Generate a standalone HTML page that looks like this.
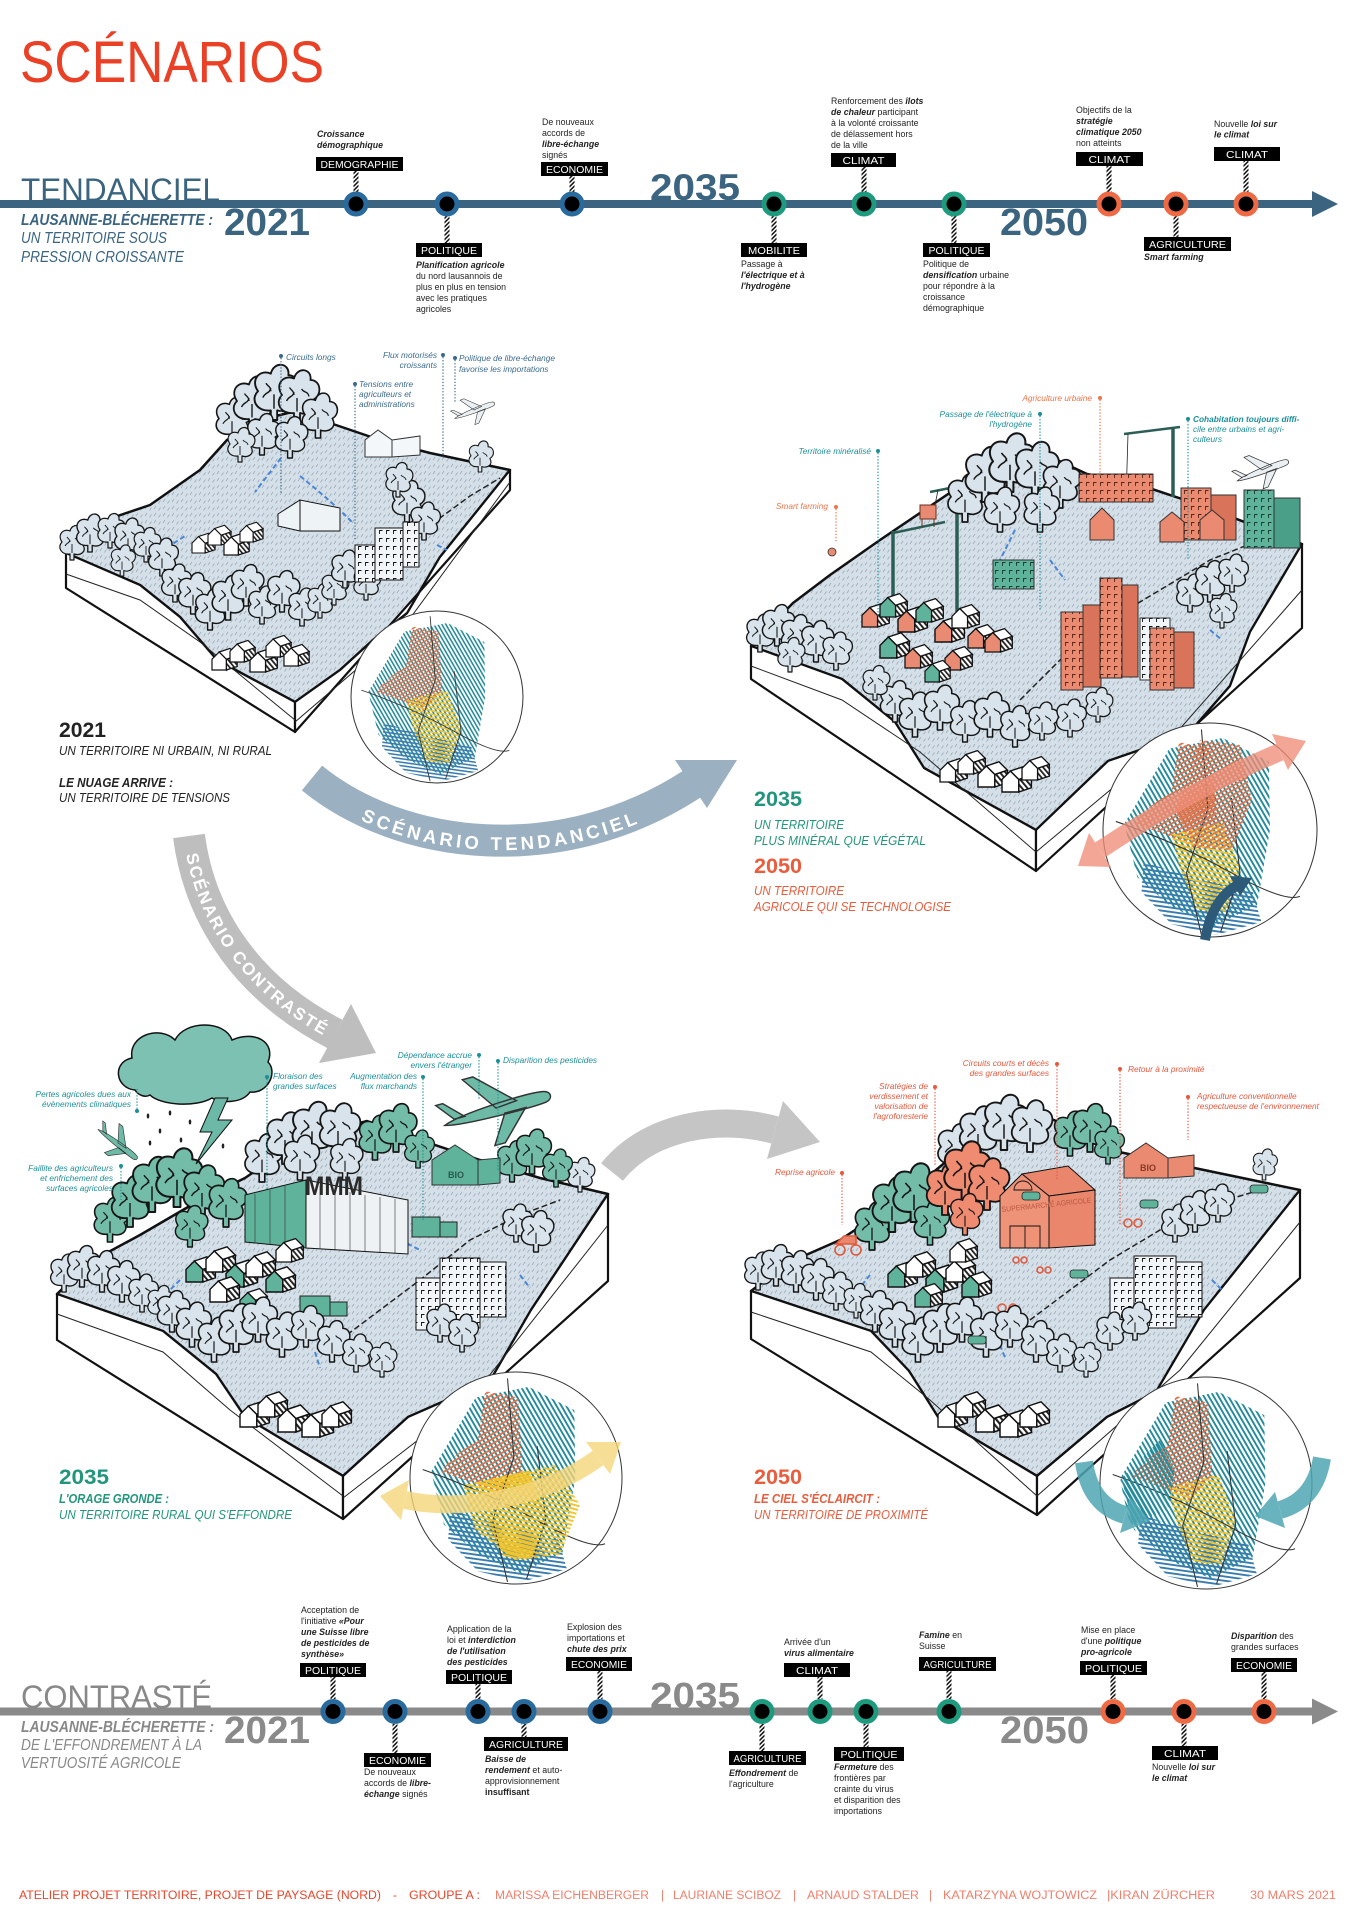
<!DOCTYPE html>
<html><head><meta charset="utf-8"><style>
html,body{margin:0;padding:0;background:#fff;}
svg{display:block;}
text{font-family:"Liberation Sans","DejaVu Sans",sans-serif;}
.d{font-size:8.8px;fill:#222;}
.b{font-weight:bold;font-style:italic;}
.bx{font-size:10.5px;fill:#fff;text-anchor:middle;}
.lb{font-size:8.3px;font-style:italic;}
</style></head><body>
<svg width="1357" height="1920" viewBox="0 0 1357 1920" xmlns="http://www.w3.org/2000/svg" xmlns:xlink="http://www.w3.org/1999/xlink">
<defs>
<pattern id="gr" width="9" height="7" patternUnits="userSpaceOnUse"><rect width="9" height="7" fill="#d4dfe8"/><path d="M1 5l2-3M5.5 6.5l2-3" stroke="#98a9b6" stroke-width=".7"/></pattern>
<pattern id="hz" width="3" height="3" patternUnits="userSpaceOnUse" patternTransform="rotate(45)"><rect width="3" height="3" fill="#fff"/><rect width="1.5" height="3" fill="#111"/></pattern>
<pattern id="hh" width="3" height="3" patternUnits="userSpaceOnUse" patternTransform="rotate(-40)"><rect width="3" height="3" fill="#fff"/><rect width="1.4" height="3" fill="#222"/></pattern>
<pattern id="pT" width="4" height="4" patternUnits="userSpaceOnUse" patternTransform="rotate(60)"><rect width="4" height="1.8" fill="#238a9c"/></pattern>
<pattern id="pO" width="4" height="4" patternUnits="userSpaceOnUse" patternTransform="rotate(-30)"><rect width="4" height="1.8" fill="#e1744c"/></pattern>
<pattern id="pY" width="4" height="4" patternUnits="userSpaceOnUse" patternTransform="rotate(15)"><rect width="4" height="1.9" fill="#f2c42a"/></pattern>
<pattern id="pB" width="4" height="4" patternUnits="userSpaceOnUse" patternTransform="rotate(8)"><rect width="4" height="1.8" fill="#3a7cae"/></pattern>
<pattern id="win" width="7" height="8" patternUnits="userSpaceOnUse"><rect width="7" height="8" fill="#f1f5f7"/><path d="M1.5 6V2.5H4.5" fill="none" stroke="#111" stroke-width=".9"/></pattern>
<pattern id="winO" width="7" height="8" patternUnits="userSpaceOnUse"><rect width="7" height="8" fill="#ea8a70"/><path d="M1.5 6V2.5H4.5" fill="none" stroke="#5a2414" stroke-width=".9"/></pattern>
<pattern id="winG" width="7" height="8" patternUnits="userSpaceOnUse"><rect width="7" height="8" fill="#5fb39b"/><path d="M1.5 6V2.5H4.5" fill="none" stroke="#173d33" stroke-width=".9"/></pattern>
<g id="tree"><path d="M-2,0 L-2,-6 C-11,-5 -15,-13 -10,-18 C-15,-25 -9,-32 -2,-29 C0,-37 10,-36 9,-28 C16,-28 17,-18 11,-15 C15,-8 8,-4 2,-6 L2,0 Z" stroke="#151515" stroke-width="1.2" stroke-linejoin="round"/><path d="M-7,-14 c2,-4 4,-2 5,-6 M3,-22 c2,3 4,1 5,5 M0,-7 v-9 M-5,-23 c1,2 3,2 3,5" fill="none" stroke="#151515" stroke-width=".9"/></g>
<g id="hs"><path d="M0,0 V-9 L6,-15 L12,-9 V0 Z" stroke="#111" stroke-width="1"/><path d="M12,0 V-9 L21,-12 V-3 Z" fill="url(#hh)" stroke="#111" stroke-width="1"/><path d="M6,-15 L15,-18 L21,-12 L12,-9 Z" fill="#fff" stroke="#111" stroke-width="1"/></g>
<path id="pl" d="M-30,2 C-20,-2 20,-4 28,-2 C32,-1 32,3 28,4 C20,5 -20,5 -30,2 Z M0,0 L-14,-20 L-8,-20 L12,-1 Z M4,4 L-6,20 L0,20 L16,4 Z M-24,0 L-32,-10 L-28,-10 L-18,0 Z" stroke="#333" stroke-width=".8"/>
<g id="cm">
<path d="M-80,-6 L-38,-76 L12,-86 L55,-64 L56,0 L44,70 L4,90 L-36,72 L-68,44 Z" fill="url(#pT)"/>
<path d="M-62,30 L-10,46 L40,58 L48,86 L6,98 L-36,88 L-64,58 Z" fill="url(#pB)"/>
<path d="M-29,-82 L2,-76 L6,-6 L-16,16 L-42,4 L-72,-6 L-56,-22 L-36,-36 Z" fill="url(#pO)"/>
<path d="M-36,4 L12,-8 L28,36 L14,78 L-12,74 L-28,36 Z" fill="url(#pY)"/>
<path d="M-88,-8 Q-30,12 20,40 T84,62 M-8,-94 L-2,-20 L-22,40 L-8,98 M20,-30 L28,40 L10,95" fill="none" stroke="#333" stroke-width="1"/>
</g>
</defs>

<!-- TITLE -->
<text x="20" y="82" font-size="58" fill="#ea4126" textLength="304" lengthAdjust="spacingAndGlyphs">SCÉNARIOS</text>

<!-- TENDANCIEL TIMELINE -->
<text x="21" y="201" font-size="32" fill="#3b6480" textLength="199" lengthAdjust="spacingAndGlyphs">TENDANCIEL</text>
<rect x="0" y="200" width="1315" height="8" fill="#3b6480"/>
<polygon points="1312,191 1338,204 1312,217" fill="#3b6480"/>
<text x="224" y="235" font-size="38" font-weight="bold" fill="#3b6480" textLength="86" lengthAdjust="spacingAndGlyphs">2021</text>
<text x="650" y="200" font-size="37" font-weight="bold" fill="#3b6480" textLength="90" lengthAdjust="spacingAndGlyphs">2035</text>
<text x="1000" y="235" font-size="38" font-weight="bold" fill="#3b6480" textLength="88" lengthAdjust="spacingAndGlyphs">2050</text>
<text x="21" y="225" font-size="15.5" font-weight="bold" font-style="italic" fill="#3b6480" textLength="192" lengthAdjust="spacingAndGlyphs">LAUSANNE-BLÉCHERETTE :</text>
<text x="21" y="243" font-size="15.5" font-style="italic" fill="#3b6480" textLength="146" lengthAdjust="spacingAndGlyphs">UN TERRITOIRE SOUS</text>
<text x="21" y="262" font-size="15.5" font-style="italic" fill="#3b6480" textLength="163" lengthAdjust="spacingAndGlyphs">PRESSION CROISSANTE</text>

<g fill="url(#hz)">
<rect x="353.5" y="171" width="5" height="21"/><rect x="444.5" y="216" width="5" height="27"/>
<rect x="569.5" y="176" width="5" height="16"/><rect x="771.5" y="216" width="5" height="27"/>
<rect x="861.5" y="167" width="5" height="25"/><rect x="951.5" y="216" width="5" height="27"/>
<rect x="1106.5" y="166" width="5" height="26"/><rect x="1173.5" y="216" width="5" height="21"/>
<rect x="1243.5" y="161" width="5" height="31"/>
</g>
<g stroke-width="5" fill="#000">
<circle cx="356" cy="204" r="10" stroke="#2a6b9e"/><circle cx="447" cy="204" r="10" stroke="#2a6b9e"/><circle cx="572" cy="204" r="10" stroke="#2a6b9e"/>
<circle cx="774" cy="204" r="10" stroke="#1e9b7e"/><circle cx="864" cy="204" r="10" stroke="#1e9b7e"/><circle cx="954" cy="204" r="10" stroke="#1e9b7e"/>
<circle cx="1109" cy="204" r="10" stroke="#ee6a45"/><circle cx="1176" cy="204" r="10" stroke="#ee6a45"/><circle cx="1246" cy="204" r="10" stroke="#ee6a45"/>
</g>
<g fill="#000">
<rect x="316" y="157" width="87" height="14"/><rect x="416" y="243" width="66" height="14"/><rect x="541" y="162" width="67" height="14"/>
<rect x="741" y="243" width="66" height="14"/><rect x="831" y="153" width="65" height="14"/><rect x="923" y="243" width="67" height="14"/>
<rect x="1076" y="152" width="67" height="14"/><rect x="1144" y="237" width="87" height="14"/><rect x="1214" y="147" width="66" height="14"/>
</g>
<text class="bx" x="359.5" y="167.8" textLength="78" lengthAdjust="spacingAndGlyphs">DEMOGRAPHIE</text>
<text class="bx" x="449" y="253.8" textLength="56" lengthAdjust="spacingAndGlyphs">POLITIQUE</text>
<text class="bx" x="574.5" y="172.8" textLength="57" lengthAdjust="spacingAndGlyphs">ECONOMIE</text>
<text class="bx" x="774" y="253.8" textLength="52" lengthAdjust="spacingAndGlyphs">MOBILITE</text>
<text class="bx" x="863.5" y="163.8" textLength="42" lengthAdjust="spacingAndGlyphs">CLIMAT</text>
<text class="bx" x="956.5" y="253.8" textLength="56" lengthAdjust="spacingAndGlyphs">POLITIQUE</text>
<text class="bx" x="1109.5" y="162.8" textLength="42" lengthAdjust="spacingAndGlyphs">CLIMAT</text>
<text class="bx" x="1187.5" y="247.8" textLength="77" lengthAdjust="spacingAndGlyphs">AGRICULTURE</text>
<text class="bx" x="1247" y="157.8" textLength="42" lengthAdjust="spacingAndGlyphs">CLIMAT</text>

<text class="d" x="317" y="137"><tspan class="b">Croissance</tspan><tspan class="b" x="317" dy="11">démographique</tspan></text>
<text class="d" x="416" y="268"><tspan class="b">Planification agricole</tspan><tspan x="416" dy="11">du nord lausannois de</tspan><tspan x="416" dy="11">plus en plus en tension</tspan><tspan x="416" dy="11">avec les pratiques</tspan><tspan x="416" dy="11">agricoles</tspan></text>
<text class="d" x="542" y="125"><tspan>De nouveaux</tspan><tspan x="542" dy="11">accords de</tspan><tspan class="b" x="542" dy="11">libre-échange</tspan><tspan x="542" dy="11">signés</tspan></text>
<text class="d" x="741" y="267"><tspan>Passage à</tspan><tspan class="b" x="741" dy="11">l'électrique et à</tspan><tspan class="b" x="741" dy="11">l'hydrogène</tspan></text>
<text class="d" x="831" y="104"><tspan>Renforcement des </tspan><tspan class="b">îlots</tspan><tspan class="b" x="831" dy="11">de chaleur</tspan><tspan> participant</tspan><tspan x="831" dy="11">à la volonté croissante</tspan><tspan x="831" dy="11">de délassement hors</tspan><tspan x="831" dy="11">de la ville</tspan></text>
<text class="d" x="923" y="267"><tspan>Politique de</tspan><tspan class="b" x="923" dy="11">densification</tspan><tspan> urbaine</tspan><tspan x="923" dy="11">pour répondre à la</tspan><tspan x="923" dy="11">croissance</tspan><tspan x="923" dy="11">démographique</tspan></text>
<text class="d" x="1076" y="113"><tspan>Objectifs de la</tspan><tspan class="b" x="1076" dy="11">stratégie</tspan><tspan class="b" x="1076" dy="11">climatique 2050</tspan><tspan x="1076" dy="11">non atteints</tspan></text>
<text class="d" x="1144" y="260"><tspan class="b">Smart farming</tspan></text>
<text class="d" x="1214" y="127"><tspan>Nouvelle </tspan><tspan class="b">loi sur</tspan><tspan class="b" x="1214" dy="10.6">le climat</tspan></text>

<!-- SCENARIO ARROWS -->
<path d="M312 778 C400 850 560 870 692 784" fill="none" stroke="#9bb0c1" stroke-width="32"/>
<polygon points="707,808 675,760 737,760" fill="#9bb0c1"/>
<path id="tp1" d="M306 786 C396 860 562 880 698 792" fill="none"/>
<text font-size="18.5" font-weight="bold" fill="#fff" letter-spacing="3.5"><textPath href="#tp1" xlink:href="#tp1" startOffset="50%" text-anchor="middle">SCÉNARIO TENDANCIEL</textPath></text>

<path d="M189 836 C200 920 250 990 335 1034" fill="none" stroke="#bebebe" stroke-width="32"/>
<polygon points="351,1004 319,1063 376,1053" fill="#bebebe"/>
<path id="tp2" d="M183 836 C194 922 245 995 332 1040" fill="none"/>
<text font-size="17" font-weight="bold" fill="#fff" letter-spacing="2"><textPath href="#tp2" xlink:href="#tp2" startOffset="52%" text-anchor="middle">SCÉNARIO CONTRASTÉ</textPath></text>

<path d="M612 1172 C650 1125 720 1115 775 1130" fill="none" stroke="#c5c5c5" stroke-width="28"/>
<polygon points="783,1101 767,1159 820,1142" fill="#c5c5c5"/>

<!-- ============ SCENE 1 (2021) ============ -->
<polygon points="66,553 100,522 150,505 200,470 227,440 260,420 300,410 330,423 380,440 430,453 510,470 440,557 407,613 373,640 340,670 295,702 217,660 180,617 140,585" fill="url(#gr)" stroke="#111" stroke-width="2.5" stroke-linejoin="round"/>
<polygon points="66,553 140,585 180,617 217,660 295,702 295,732 66,588" fill="#fff" stroke="#111" stroke-width="2.2" stroke-linejoin="round"/>
<polygon points="295,702 340,670 373,640 407,613 440,557 510,470 510,490 295,732" fill="#fff" stroke="#111" stroke-width="2.2" stroke-linejoin="round"/>
<path d="M66,574 L140,600 L200,642 L295,720 M295,722 L400,632 L510,482" fill="none" stroke="#222" stroke-width="1"/>
<path d="M330,598 L360,572 L400,545 L440,518 L470,496 L500,478" fill="none" stroke="#222" stroke-width="1.5" stroke-dasharray="6 3"/>
<path d="M281,458 L255,492 M300,476 Q330,500 352,522 M160,552 L185,536 M437,545 L447,550 M220,660 L228,672" fill="none" stroke="#4a86d8" stroke-width="2" stroke-dasharray="5 3"/>
<g fill="#eef3f6" stroke="#111" stroke-width="1"><path d="M278,514 L300,500 L340,508 L340,531 L300,531 L278,526 Z"/><path d="M300,500 V531" /></g>
<path d="M365,457 V440 L378,430 L392,440 V457 Z M392,440 L420,436 V455 L392,457" fill="#f4f7f9" stroke="#333" stroke-width="1"/>
<g fill="#d8e3eb">
<use href="#tree" xlink:href="#tree" transform="translate(72 560) scale(1)"/><use href="#tree" xlink:href="#tree" transform="translate(90 552) scale(1.1)"/>
<use href="#tree" xlink:href="#tree" transform="translate(110 548) scale(1)"/><use href="#tree" xlink:href="#tree" transform="translate(128 556) scale(1.1)"/>
<use href="#tree" xlink:href="#tree" transform="translate(146 562) scale(1)"/><use href="#tree" xlink:href="#tree" transform="translate(162 576) scale(1.1)"/>
<use href="#tree" xlink:href="#tree" transform="translate(122 576) scale(.9)"/>
<use href="#tree" xlink:href="#tree" transform="translate(232 442) scale(1.3)"/><use href="#tree" xlink:href="#tree" transform="translate(252 428) scale(1.5)"/>
<use href="#tree" xlink:href="#tree" transform="translate(274 420) scale(1.6)"/><use href="#tree" xlink:href="#tree" transform="translate(297 422) scale(1.5)"/>
<use href="#tree" xlink:href="#tree" transform="translate(318 438) scale(1.3)"/><use href="#tree" xlink:href="#tree" transform="translate(262 455) scale(1.2)"/>
<use href="#tree" xlink:href="#tree" transform="translate(290 458) scale(1.2)"/><use href="#tree" xlink:href="#tree" transform="translate(240 462) scale(1)"/>
<use href="#tree" xlink:href="#tree" transform="translate(175 602) scale(1.1)"/><use href="#tree" xlink:href="#tree" transform="translate(193 614) scale(1.2)"/>
<use href="#tree" xlink:href="#tree" transform="translate(210 630) scale(1.2)"/><use href="#tree" xlink:href="#tree" transform="translate(228 620) scale(1.3)"/>
<use href="#tree" xlink:href="#tree" transform="translate(246 606) scale(1.2)"/><use href="#tree" xlink:href="#tree" transform="translate(262 624) scale(1.1)"/>
<use href="#tree" xlink:href="#tree" transform="translate(282 612) scale(1.2)"/><use href="#tree" xlink:href="#tree" transform="translate(302 626) scale(1.1)"/>
<use href="#tree" xlink:href="#tree" transform="translate(320 618) scale(1)"/><use href="#tree" xlink:href="#tree" transform="translate(334 605) scale(1)"/>
<use href="#tree" xlink:href="#tree" transform="translate(345 588) scale(1.1)"/><use href="#tree" xlink:href="#tree" transform="translate(366 600) scale(1)"/>
<use href="#tree" xlink:href="#tree" transform="translate(407 522) scale(1.2)"/><use href="#tree" xlink:href="#tree" transform="translate(424 540) scale(1.1)"/>
<use href="#tree" xlink:href="#tree" transform="translate(398 497) scale(1)"/><use href="#tree" xlink:href="#tree" transform="translate(480 472) scale(.9)"/>
</g>
<g fill="#eef3f6" stroke="#111" stroke-width="1">
<rect x="355" y="545" width="20" height="37" fill="url(#win)"/><rect x="375" y="528" width="28" height="52" fill="url(#win)"/><rect x="403" y="522" width="16" height="45" fill="url(#win)"/>
</g>
<g fill="#fff">
<use href="#hs" xlink:href="#hs" transform="translate(192 553) scale(1.1)"/><use href="#hs" xlink:href="#hs" transform="translate(208 545) scale(1.1)"/>
<use href="#hs" xlink:href="#hs" transform="translate(224 555) scale(1.2)"/><use href="#hs" xlink:href="#hs" transform="translate(240 542) scale(1.1)"/>
<use href="#hs" xlink:href="#hs" transform="translate(212 670) scale(1.2)"/><use href="#hs" xlink:href="#hs" transform="translate(230 662) scale(1.2)"/>
<use href="#hs" xlink:href="#hs" transform="translate(250 672) scale(1.3)"/><use href="#hs" xlink:href="#hs" transform="translate(266 657) scale(1.2)"/>
<use href="#hs" xlink:href="#hs" transform="translate(284 666) scale(1.2)"/>
</g>
<use href="#pl" xlink:href="#pl" transform="translate(474 410) rotate(-20) scale(.7)" fill="#e9eff3"/>
<!-- scene1 labels -->
<g fill="#3a6a8c">
<text class="lb" x="286" y="360">Circuits longs</text>
<text class="lb" x="437" y="358" text-anchor="end">Flux motorisés</text><text class="lb" x="437" y="368" text-anchor="end">croissants</text>
<text class="lb" x="459" y="361">Politique de libre-échange</text><text class="lb" x="459" y="372">favorise les importations</text>
<text class="lb" x="359" y="387">Tensions entre</text><text class="lb" x="359" y="397">agriculteurs et</text><text class="lb" x="359" y="407">administrations</text>
<circle cx="281" cy="356" r="2"/><circle cx="443" cy="355" r="2"/><circle cx="455" cy="358" r="2"/><circle cx="355" cy="384" r="2"/>
</g>
<path d="M281,358 V493 M443,357 V458 M455,360 V403 M355,386 V540" stroke="#3a6a8c" stroke-width="1.2" stroke-dasharray="1.3 1.8" fill="none"/>
<!-- circle 1 -->
<circle cx="437" cy="697" r="86" fill="#fff" stroke="#333" stroke-width="1"/>
<use href="#cm" xlink:href="#cm" transform="translate(437 697) scale(.86)"/>
<text x="59" y="737" font-size="21" font-weight="bold" fill="#222" textLength="47" lengthAdjust="spacingAndGlyphs">2021</text>
<text x="59" y="755" font-size="13" font-style="italic" fill="#222" textLength="213" lengthAdjust="spacingAndGlyphs">UN TERRITOIRE NI URBAIN, NI RURAL</text>
<text x="59" y="787" font-size="13" font-style="italic" font-weight="bold" fill="#222" textLength="114" lengthAdjust="spacingAndGlyphs">LE NUAGE ARRIVE :</text>
<text x="59" y="802" font-size="13" font-style="italic" fill="#222" textLength="171" lengthAdjust="spacingAndGlyphs">UN TERRITOIRE DE TENSIONS</text>

<!-- ============ SCENE 2 (tendanciel 2035/2050) ============ -->
<polygon points="751,646 793,603 830,575 880,540 957,488 985,460 1006,445 1040,452 1087,474 1128,481 1200,505 1302,544 1250,632 1230,686 1189,733 1108,761 1036,830 924,768 895,722 842,679" fill="url(#gr)" stroke="#111" stroke-width="2.5" stroke-linejoin="round"/>
<polygon points="751,646 842,679 895,722 924,768 1036,830 1036,871 751,679" fill="#fff" stroke="#111" stroke-width="2.2" stroke-linejoin="round"/>
<polygon points="1036,830 1108,761 1189,733 1230,686 1250,632 1302,544 1302,628 1036,871" fill="#fff" stroke="#111" stroke-width="2.2" stroke-linejoin="round"/>
<path d="M751,666 L842,700 L920,752 L1036,852 M1036,852 L1170,740 L1302,590" fill="none" stroke="#222" stroke-width="1"/>
<path d="M1020,700 L1060,660 L1110,620 L1160,590 L1210,560 L1260,540" fill="none" stroke="#222" stroke-width="1.5" stroke-dasharray="6 3"/>
<path d="M1015,530 L1000,560 M1050,560 L1065,580 M1210,630 L1222,640" fill="none" stroke="#4a86d8" stroke-width="2" stroke-dasharray="5 3"/>
<!-- cranes -->
<g stroke="#2c5e56" fill="none">
<path d="M957,486 V612 M893,531 V612 M1173,427 V497" stroke-width="3.5"/>
<path d="M930,492 L1000,478 M893,533 L945,522 M1124,434 L1180,427" stroke-width="2.5"/>
<path d="M938,490 L935,505 M1128,434 L1126,500" stroke="#222" stroke-width=".8"/>
</g>
<g fill="#d8e3eb">
<use href="#tree" xlink:href="#tree" transform="translate(965 522) scale(1.4)"/><use href="#tree" xlink:href="#tree" transform="translate(985 502) scale(1.6)"/>
<use href="#tree" xlink:href="#tree" transform="translate(1010 492) scale(1.7)"/><use href="#tree" xlink:href="#tree" transform="translate(1035 497) scale(1.6)"/>
<use href="#tree" xlink:href="#tree" transform="translate(1060 508) scale(1.4)"/><use href="#tree" xlink:href="#tree" transform="translate(1000 532) scale(1.3)"/>
<use href="#tree" xlink:href="#tree" transform="translate(1040 532) scale(1.3)"/>
<use href="#tree" xlink:href="#tree" transform="translate(760 652) scale(1.1)"/><use href="#tree" xlink:href="#tree" transform="translate(777 646) scale(1.2)"/>
<use href="#tree" xlink:href="#tree" transform="translate(796 656) scale(1.2)"/><use href="#tree" xlink:href="#tree" transform="translate(816 662) scale(1.2)"/>
<use href="#tree" xlink:href="#tree" transform="translate(836 670) scale(1.1)"/><use href="#tree" xlink:href="#tree" transform="translate(790 672) scale(1)"/>
<use href="#tree" xlink:href="#tree" transform="translate(1190 612) scale(1.1)"/><use href="#tree" xlink:href="#tree" transform="translate(1210 602) scale(1.2)"/>
<use href="#tree" xlink:href="#tree" transform="translate(1232 592) scale(1.1)"/><use href="#tree" xlink:href="#tree" transform="translate(1222 628) scale(1)"/>
</g>
<!-- orange/green buildings -->
<g stroke="#333" stroke-width="1">
<rect x="1079" y="474" width="74" height="28" fill="url(#winO)"/>
<rect x="1181" y="488" width="30" height="52" fill="url(#winO)"/><rect x="1211" y="495" width="25" height="45" fill="#d9735a"/>
<rect x="1244" y="490" width="30" height="58" fill="url(#winG)"/><rect x="1274" y="498" width="26" height="50" fill="#4a9f88"/>
<rect x="993" y="560" width="41" height="29" fill="url(#winG)"/>
<rect x="1140" y="618" width="30" height="62" fill="url(#win)"/>
<rect x="1061" y="612" width="22" height="78" fill="url(#winO)"/><rect x="1083" y="605" width="18" height="82" fill="#d9735a"/>
<rect x="1100" y="578" width="22" height="100" fill="url(#winO)"/><rect x="1122" y="585" width="16" height="92" fill="#d9735a"/>
<rect x="1150" y="628" width="24" height="62" fill="url(#winO)"/><rect x="1174" y="632" width="20" height="56" fill="#d9735a"/>
</g>
<path d="M1090,540 V520 L1102,508 L1114,520 V540 Z M1160,542 V522 L1172,512 L1184,522 V542 Z M1200,540 V520 L1212,510 L1224,520 V540 Z" fill="#ea8a70" stroke="#333" stroke-width="1"/>
<g>
<use href="#hs" xlink:href="#hs" fill="#e98b72" transform="translate(862 627) scale(1.3)"/><use href="#hs" xlink:href="#hs" fill="#5fb39b" transform="translate(880 617) scale(1.3)"/>
<use href="#hs" xlink:href="#hs" fill="#e98b72" transform="translate(898 632) scale(1.4)"/><use href="#hs" xlink:href="#hs" fill="#5fb39b" transform="translate(916 622) scale(1.3)"/>
<use href="#hs" xlink:href="#hs" fill="#e98b72" transform="translate(935 642) scale(1.4)"/><use href="#hs" xlink:href="#hs" fill="#fff" transform="translate(952 628) scale(1.3)"/>
<use href="#hs" xlink:href="#hs" fill="#e98b72" transform="translate(968 648) scale(1.3)"/><use href="#hs" xlink:href="#hs" fill="#e98b72" transform="translate(985 652) scale(1.3)"/>
<use href="#hs" xlink:href="#hs" fill="#5fb39b" transform="translate(880 658) scale(1.4)"/><use href="#hs" xlink:href="#hs" fill="#e98b72" transform="translate(905 668) scale(1.3)"/>
<use href="#hs" xlink:href="#hs" fill="#e98b72" transform="translate(945 670) scale(1.3)"/><use href="#hs" xlink:href="#hs" fill="#5fb39b" transform="translate(925 682) scale(1.2)"/>
</g>
<g fill="#d8e3eb">
<use href="#tree" xlink:href="#tree" transform="translate(895 722) scale(1.2)"/><use href="#tree" xlink:href="#tree" transform="translate(915 737) scale(1.3)"/>
<use href="#tree" xlink:href="#tree" transform="translate(940 730) scale(1.3)"/><use href="#tree" xlink:href="#tree" transform="translate(965 742) scale(1.2)"/>
<use href="#tree" xlink:href="#tree" transform="translate(990 737) scale(1.3)"/><use href="#tree" xlink:href="#tree" transform="translate(1015 747) scale(1.2)"/>
<use href="#tree" xlink:href="#tree" transform="translate(1042 740) scale(1.1)"/><use href="#tree" xlink:href="#tree" transform="translate(1070 737) scale(1.1)"/>
<use href="#tree" xlink:href="#tree" transform="translate(1098 722) scale(1)"/><use href="#tree" xlink:href="#tree" transform="translate(875 700) scale(1)"/>
</g>
<g fill="#fff">
<use href="#hs" xlink:href="#hs" transform="translate(940 782) scale(1.3)"/><use href="#hs" xlink:href="#hs" transform="translate(958 774) scale(1.3)"/>
<use href="#hs" xlink:href="#hs" transform="translate(978 787) scale(1.4)"/><use href="#hs" xlink:href="#hs" transform="translate(1002 792) scale(1.4)"/>
<use href="#hs" xlink:href="#hs" transform="translate(1022 780) scale(1.3)"/>
</g>
<path d="M920,505 h16 v14 h-16 Z M922,519 v8 M934,519 v8" fill="#e98b72" stroke="#6a3020" stroke-width="1"/>
<circle cx="832" cy="552" r="4" fill="#e98b72" stroke="#333" stroke-width=".8"/>
<use href="#pl" xlink:href="#pl" transform="translate(1262 470) rotate(-20) scale(.9)" fill="#e9eff3"/>
<!-- scene2 labels -->
<text class="lb" x="1092" y="401" text-anchor="end" fill="#ec7448">Agriculture urbaine</text>
<text class="lb" x="1032" y="417" text-anchor="end" fill="#1b8f98">Passage de l'électrique à</text><text class="lb" x="1032" y="427" text-anchor="end" fill="#1b8f98">l'hydrogène</text>
<text class="lb" x="1193" y="422" fill="#1b8f98" font-weight="bold">Cohabitation toujours diffi-</text><text class="lb" x="1193" y="432" fill="#1b8f98">cile entre urbains et agri-</text><text class="lb" x="1193" y="442" fill="#1b8f98">culteurs</text>
<text class="lb" x="871" y="454" text-anchor="end" fill="#1b8f98">Territoire minéralisé</text>
<text class="lb" x="828" y="509" text-anchor="end" fill="#ec7448">Smart farming</text>
<g fill="#1b8f98"><circle cx="1040" cy="414" r="2"/><circle cx="1188" cy="419" r="2"/><circle cx="878" cy="451" r="2"/></g>
<g fill="#ec7448"><circle cx="1100" cy="398" r="2"/><circle cx="836" cy="507" r="2"/></g>
<path d="M1040,416 V610 M1188,421 V560 M878,453 V617" stroke="#1b8f98" stroke-width="1.2" stroke-dasharray="1.3 1.8" fill="none"/>
<path d="M1100,400 V477 M836,509 V542" stroke="#ec7448" stroke-width="1.2" stroke-dasharray="1.3 1.8" fill="none"/>
<!-- circle 2 -->
<circle cx="1210" cy="830" r="107" fill="#fff" stroke="#333" stroke-width="1"/>
<use href="#cm" xlink:href="#cm" transform="translate(1210 830) scale(1.07)"/>
<path d="M1200,740 L1240,745 L1252,800 L1232,850 L1195,848 L1175,810 Z" fill="url(#pO)"/>
<g opacity=".78" fill="#f08e78">
<path d="M1100,850 Q1190,790 1280,752" fill="none" stroke="#f08e78" stroke-width="18"/>
<polygon points="1078,866 1111,867 1089,833"/><polygon points="1306,741 1288,770 1272,734"/>
</g>
<path d="M1205,940 Q1212,900 1236,886" fill="none" stroke="#2d5a78" stroke-width="10"/>
<polygon points="1252,878 1230,876 1240,896" fill="#2d5a78"/>
<text x="754" y="806" font-size="21" font-weight="bold" fill="#22967c" textLength="48" lengthAdjust="spacingAndGlyphs">2035</text>
<text x="754" y="829" font-size="13" font-style="italic" fill="#22967c" textLength="90" lengthAdjust="spacingAndGlyphs">UN TERRITOIRE</text>
<text x="754" y="845" font-size="13" font-style="italic" fill="#22967c" textLength="172" lengthAdjust="spacingAndGlyphs">PLUS MINÉRAL QUE VÉGÉTAL</text>
<text x="754" y="873" font-size="21" font-weight="bold" fill="#ea5c3c" textLength="48" lengthAdjust="spacingAndGlyphs">2050</text>
<text x="754" y="895" font-size="13" font-style="italic" fill="#ea5c3c" textLength="90" lengthAdjust="spacingAndGlyphs">UN TERRITOIRE</text>
<text x="754" y="911" font-size="13" font-style="italic" fill="#ea5c3c" textLength="197" lengthAdjust="spacingAndGlyphs">AGRICOLE QUI SE TECHNOLOGISE</text>

<!-- ============ SCENE 3 (contrasté 2035) ============ -->
<polygon points="57,1294 90,1262 140,1235 200,1200 245,1178 300,1140 367,1121 420,1140 480,1160 540,1178 608,1194 531,1310 490,1381 408,1417 343,1476 245,1417 216,1374 163,1331" fill="url(#gr)" stroke="#111" stroke-width="2.5" stroke-linejoin="round"/>
<polygon points="57,1294 163,1331 216,1374 245,1417 343,1476 343,1519 57,1340" fill="#fff" stroke="#111" stroke-width="2.2" stroke-linejoin="round"/>
<polygon points="343,1476 408,1417 490,1381 531,1310 608,1194 608,1281 343,1519" fill="#fff" stroke="#111" stroke-width="2.2" stroke-linejoin="round"/>
<path d="M57,1314 L163,1352 L230,1410 L343,1496 M343,1498 L470,1400 L608,1225" fill="none" stroke="#222" stroke-width="1"/>
<path d="M340,1340 L380,1310 L420,1280 L470,1240 L520,1215 L560,1200" fill="none" stroke="#222" stroke-width="1.5" stroke-dasharray="6 3"/>
<path d="M180,1280 L165,1295 M400,1240 L420,1250 M520,1275 L530,1288 M315,1352 L320,1368" fill="none" stroke="#4a86d8" stroke-width="2" stroke-dasharray="5 3"/>
<g fill="#d8e3eb">
<use href="#tree" xlink:href="#tree" transform="translate(262 1182) scale(1.4)"/><use href="#tree" xlink:href="#tree" transform="translate(285 1164) scale(1.5)"/>
<use href="#tree" xlink:href="#tree" transform="translate(312 1157) scale(1.6)"/><use href="#tree" xlink:href="#tree" transform="translate(338 1155) scale(1.5)"/>
<use href="#tree" xlink:href="#tree" transform="translate(300 1180) scale(1.3)"/><use href="#tree" xlink:href="#tree" transform="translate(345 1180) scale(1.2)"/>
<use href="#tree" xlink:href="#tree" transform="translate(64 1292) scale(1.1)"/><use href="#tree" xlink:href="#tree" transform="translate(82 1287) scale(1.2)"/>
<use href="#tree" xlink:href="#tree" transform="translate(102 1292) scale(1.2)"/><use href="#tree" xlink:href="#tree" transform="translate(122 1302) scale(1.2)"/>
<use href="#tree" xlink:href="#tree" transform="translate(142 1312) scale(1.1)"/><use href="#tree" xlink:href="#tree" transform="translate(160 1320) scale(1)"/>
<use href="#tree" xlink:href="#tree" transform="translate(580 1192) scale(1)"/>
</g>
<g fill="#72bca8">
<use href="#tree" xlink:href="#tree" transform="translate(110 1242) scale(1.3)"/><use href="#tree" xlink:href="#tree" transform="translate(130 1227) scale(1.5)"/>
<use href="#tree" xlink:href="#tree" transform="translate(152 1212) scale(1.6)"/><use href="#tree" xlink:href="#tree" transform="translate(177 1207) scale(1.7)"/>
<use href="#tree" xlink:href="#tree" transform="translate(202 1217) scale(1.5)"/><use href="#tree" xlink:href="#tree" transform="translate(226 1227) scale(1.4)"/>
<use href="#tree" xlink:href="#tree" transform="translate(190 1247) scale(1.2)"/>
<use href="#tree" xlink:href="#tree" transform="translate(375 1160) scale(1.3)"/><use href="#tree" xlink:href="#tree" transform="translate(396 1152) scale(1.4)"/>
<use href="#tree" xlink:href="#tree" transform="translate(418 1168) scale(1.1)"/>
<use href="#tree" xlink:href="#tree" transform="translate(512 1182) scale(1.2)"/><use href="#tree" xlink:href="#tree" transform="translate(532 1174) scale(1.3)"/>
<use href="#tree" xlink:href="#tree" transform="translate(556 1187) scale(1.1)"/>
</g>
<!-- warehouse MMM -->
<polygon points="245,1195 306,1180 306,1248 245,1242" fill="#5fb39b" stroke="#111" stroke-width="1"/>
<polygon points="306,1180 408,1200 408,1254 306,1248" fill="#eef2f4" stroke="#111" stroke-width="1"/>
<path d="M320,1186 V1249 M335,1189 V1250 M350,1192 V1251 M365,1195 V1252 M380,1197 V1253 M395,1199 V1253 M255,1194 V1243 M270,1190 V1244 M285,1186 V1245" stroke="#333" stroke-width=".6"/>
<text x="305" y="1195" font-size="27" font-weight="bold" fill="#2a2a2a" textLength="58" lengthAdjust="spacingAndGlyphs">MMM</text>
<path d="M432,1185 V1160 L455,1145 L478,1160 V1185 Z M478,1160 L500,1158 V1183 L478,1185" fill="#5fb39b" stroke="#333" stroke-width="1"/>
<text x="448" y="1178" font-size="9" font-weight="bold" fill="#2a5a4e">BIO</text>
<g fill="#5fb39b" stroke="#222" stroke-width="1"><rect x="300" y="1296" width="30" height="20"/><rect x="330" y="1302" width="17" height="14"/><rect x="412" y="1217" width="28" height="20"/><rect x="440" y="1222" width="17" height="15"/></g>
<g>
<use href="#hs" xlink:href="#hs" fill="#5fb39b" transform="translate(186 1282) scale(1.4)"/><use href="#hs" xlink:href="#hs" fill="#fff" transform="translate(206 1272) scale(1.4)"/>
<use href="#hs" xlink:href="#hs" fill="#5fb39b" transform="translate(226 1287) scale(1.5)"/><use href="#hs" xlink:href="#hs" fill="#fff" transform="translate(246 1277) scale(1.4)"/>
<use href="#hs" xlink:href="#hs" fill="#5fb39b" transform="translate(266 1292) scale(1.4)"/><use href="#hs" xlink:href="#hs" fill="#fff" transform="translate(210 1302) scale(1.4)"/>
<use href="#hs" xlink:href="#hs" fill="#5fb39b" transform="translate(240 1312) scale(1.3)"/><use href="#hs" xlink:href="#hs" fill="#fff" transform="translate(276 1262) scale(1.3)"/>
</g>
<g stroke="#111" stroke-width="1"><rect x="416" y="1278" width="24" height="52" fill="url(#win)"/><rect x="440" y="1258" width="40" height="70" fill="url(#win)"/><rect x="480" y="1262" width="26" height="55" fill="url(#win)"/></g>
<g fill="#d8e3eb">
<use href="#tree" xlink:href="#tree" transform="translate(172 1332) scale(1.2)"/><use href="#tree" xlink:href="#tree" transform="translate(192 1347) scale(1.3)"/>
<use href="#tree" xlink:href="#tree" transform="translate(214 1362) scale(1.3)"/><use href="#tree" xlink:href="#tree" transform="translate(236 1352) scale(1.4)"/>
<use href="#tree" xlink:href="#tree" transform="translate(258 1342) scale(1.3)"/><use href="#tree" xlink:href="#tree" transform="translate(282 1357) scale(1.3)"/>
<use href="#tree" xlink:href="#tree" transform="translate(306 1347) scale(1.2)"/><use href="#tree" xlink:href="#tree" transform="translate(332 1362) scale(1.2)"/>
<use href="#tree" xlink:href="#tree" transform="translate(356 1372) scale(1.1)"/><use href="#tree" xlink:href="#tree" transform="translate(382 1377) scale(1)"/>
<use href="#tree" xlink:href="#tree" transform="translate(440 1342) scale(1.1)"/><use href="#tree" xlink:href="#tree" transform="translate(462 1352) scale(1.1)"/>
<use href="#tree" xlink:href="#tree" transform="translate(516 1242) scale(1.1)"/><use href="#tree" xlink:href="#tree" transform="translate(536 1252) scale(1.2)"/>
</g>
<g fill="#fff">
<use href="#hs" xlink:href="#hs" transform="translate(240 1427) scale(1.4)"/><use href="#hs" xlink:href="#hs" transform="translate(258 1417) scale(1.4)"/>
<use href="#hs" xlink:href="#hs" transform="translate(278 1432) scale(1.5)"/><use href="#hs" xlink:href="#hs" transform="translate(302 1437) scale(1.5)"/>
<use href="#hs" xlink:href="#hs" transform="translate(322 1427) scale(1.4)"/>
</g>
<!-- cloud, lightning, planes -->
<path d="M135,1090 C115,1088 112,1062 132,1058 C128,1035 160,1025 175,1040 C185,1020 225,1020 232,1040 C255,1030 276,1042 268,1062 C278,1072 268,1094 250,1092 C242,1104 220,1103 212,1098 C195,1108 160,1105 150,1095 C145,1098 138,1095 135,1090 Z" fill="#7dc1b3" stroke="#111" stroke-width="1.5"/>
<polygon points="215,1098 200,1132 212,1132 196,1164 232,1120 218,1120 228,1098" fill="#6cb9a8" stroke="#111" stroke-width="1"/>
<g fill="#222"><ellipse cx="148" cy="1116" rx="1.3" ry="2.5"/><ellipse cx="160" cy="1131" rx="1.3" ry="2.5"/><ellipse cx="170" cy="1113" rx="1.3" ry="2.5"/><ellipse cx="181" cy="1140" rx="1.3" ry="2.5"/><ellipse cx="150" cy="1143" rx="1.3" ry="2.5"/><ellipse cx="223" cy="1146" rx="1.3" ry="2.5"/><ellipse cx="190" cy="1122" rx="1.3" ry="2.5"/></g>
<use href="#pl" xlink:href="#pl" transform="translate(118 1143) rotate(38) scale(.8)" fill="#6dbaa6"/>
<use href="#pl" xlink:href="#pl" transform="translate(496 1108) rotate(-15) scale(1.8)" fill="#6dbaa6"/>
<!-- scene3 labels -->
<g fill="#1b8f98">
<text class="lb" x="131" y="1097" text-anchor="end">Pertes agricoles dues aux</text><text class="lb" x="131" y="1107" text-anchor="end">évènements climatiques</text>
<text class="lb" x="113" y="1171" text-anchor="end">Faillite des agriculteurs</text><text class="lb" x="113" y="1181" text-anchor="end">et enfrichement des</text><text class="lb" x="113" y="1191" text-anchor="end">surfaces agricoles</text>
<text class="lb" x="273" y="1079">Floraison des</text><text class="lb" x="273" y="1089">grandes surfaces</text>
<text class="lb" x="417" y="1079" text-anchor="end">Augmentation des</text><text class="lb" x="417" y="1089" text-anchor="end">flux marchands</text>
<text class="lb" x="472" y="1058" text-anchor="end">Dépendance accrue</text><text class="lb" x="472" y="1068" text-anchor="end">envers l'étranger</text>
<text class="lb" x="503" y="1063">Disparition des pesticides</text>
<circle cx="137" cy="1111" r="2"/><circle cx="121" cy="1166" r="2"/><circle cx="267" cy="1077" r="2"/><circle cx="423" cy="1077" r="2"/><circle cx="479" cy="1055" r="2"/><circle cx="498" cy="1061" r="2"/>
</g>
<path d="M137,1089 V1109 M121,1168 V1200 M267,1079 V1190 M423,1079 V1220 M479,1057 V1100 M498,1063 V1170" stroke="#1b8f98" stroke-width="1.2" stroke-dasharray="1.3 1.8" fill="none"/>
<!-- circle 3 -->
<circle cx="516" cy="1478" r="106" fill="#fff" stroke="#333" stroke-width="1"/>
<use href="#cm" xlink:href="#cm" transform="translate(516 1478) scale(1.06)"/>
<path d="M463,1485 L555,1465 L580,1505 L560,1555 L515,1560 L475,1530 Z" fill="url(#pY)"/>
<g opacity=".8" fill="#f5d67a">
<path d="M405,1500 C460,1512 540,1500 598,1458" fill="none" stroke="#f5d67a" stroke-width="18"/>
<polygon points="380,1496 409,1480 401,1520"/><polygon points="621,1442 610,1474 586,1442"/>
</g>
<text x="59" y="1484" font-size="21" font-weight="bold" fill="#22967c" textLength="50" lengthAdjust="spacingAndGlyphs">2035</text>
<text x="59" y="1503" font-size="13" font-style="italic" font-weight="bold" fill="#22967c" textLength="110" lengthAdjust="spacingAndGlyphs">L'ORAGE GRONDE :</text>
<text x="59" y="1519" font-size="13" font-style="italic" fill="#22967c" textLength="233" lengthAdjust="spacingAndGlyphs">UN TERRITOIRE RURAL QUI S'EFFONDRE</text>

<!-- ============ SCENE 4 (contrasté 2050) ============ -->
<polygon points="751,1291 790,1262 840,1240 900,1200 948,1160 1000,1110 1054,1120 1110,1150 1180,1165 1300,1190 1204,1310 1156,1392 1107,1417 1037,1476 938,1417 909,1371 871,1331" fill="url(#gr)" stroke="#111" stroke-width="2.5" stroke-linejoin="round"/>
<polygon points="751,1291 871,1331 909,1371 938,1417 1037,1476 1037,1515 751,1339" fill="#fff" stroke="#111" stroke-width="2.2" stroke-linejoin="round"/>
<polygon points="1037,1476 1107,1417 1156,1392 1204,1310 1300,1190 1300,1278 1037,1515" fill="#fff" stroke="#111" stroke-width="2.2" stroke-linejoin="round"/>
<path d="M751,1312 L871,1352 L930,1400 L1037,1496 M1037,1496 L1180,1370 L1300,1222" fill="none" stroke="#222" stroke-width="1"/>
<path d="M1030,1320 L1070,1290 L1110,1260 L1160,1230 L1210,1205 L1260,1190" fill="none" stroke="#222" stroke-width="1.5" stroke-dasharray="6 3"/>
<path d="M870,1275 L858,1290 M1078,1210 L1090,1225 M1212,1280 L1222,1290 M1000,1345 L1006,1360" fill="none" stroke="#4a86d8" stroke-width="2" stroke-dasharray="5 3"/>
<g fill="#d8e3eb">
<use href="#tree" xlink:href="#tree" transform="translate(955 1172) scale(1.4)"/><use href="#tree" xlink:href="#tree" transform="translate(978 1158) scale(1.5)"/>
<use href="#tree" xlink:href="#tree" transform="translate(1004 1150) scale(1.6)"/><use href="#tree" xlink:href="#tree" transform="translate(1030 1152) scale(1.5)"/>
<use href="#tree" xlink:href="#tree" transform="translate(758 1290) scale(1.1)"/><use href="#tree" xlink:href="#tree" transform="translate(776 1286) scale(1.2)"/>
<use href="#tree" xlink:href="#tree" transform="translate(796 1292) scale(1.2)"/><use href="#tree" xlink:href="#tree" transform="translate(816 1300) scale(1.2)"/>
<use href="#tree" xlink:href="#tree" transform="translate(836 1310) scale(1.1)"/><use href="#tree" xlink:href="#tree" transform="translate(856 1318) scale(1)"/>
<use href="#tree" xlink:href="#tree" transform="translate(1175 1242) scale(1.1)"/><use href="#tree" xlink:href="#tree" transform="translate(1195 1232) scale(1.2)"/>
<use href="#tree" xlink:href="#tree" transform="translate(1218 1222) scale(1.1)"/><use href="#tree" xlink:href="#tree" transform="translate(1264 1180) scale(.9)"/>
</g>
<g fill="#72bca8">
<use href="#tree" xlink:href="#tree" transform="translate(872 1250) scale(1.4)"/><use href="#tree" xlink:href="#tree" transform="translate(892 1232) scale(1.6)"/>
<use href="#tree" xlink:href="#tree" transform="translate(914 1222) scale(1.7)"/><use href="#tree" xlink:href="#tree" transform="translate(930 1245) scale(1.3)"/>
<use href="#tree" xlink:href="#tree" transform="translate(1070 1156) scale(1.3)"/><use href="#tree" xlink:href="#tree" transform="translate(1090 1152) scale(1.4)"/>
<use href="#tree" xlink:href="#tree" transform="translate(1108 1164) scale(1.1)"/>
</g>
<g fill="#ee8b70">
<use href="#tree" xlink:href="#tree" transform="translate(945 1215) scale(1.5)"/><use href="#tree" xlink:href="#tree" transform="translate(965 1200) scale(1.7)"/>
<use href="#tree" xlink:href="#tree" transform="translate(987 1210) scale(1.5)"/><use href="#tree" xlink:href="#tree" transform="translate(965 1235) scale(1.2)"/>
</g>
<!-- barn -->
<polygon points="1022,1174 1068,1166 1095,1190 1049,1196" fill="#e9866c" stroke="#111" stroke-width="1"/>
<polygon points="1049,1196 1095,1190 1095,1245 1049,1248" fill="#e9866c" stroke="#111" stroke-width="1"/>
<polygon points="1000,1248 1000,1196 1022,1174 1049,1196 1049,1248" fill="#ee9278" stroke="#111" stroke-width="1"/>
<path d="M1014,1190 a9,9 0 0 1 18,0 Z M1010,1248 V1226 H1040 V1248 M1025,1226 V1248" fill="none" stroke="#111" stroke-width=".9"/>
<text x="1002" y="1212" font-size="7.5" fill="#b85a42" transform="rotate(-6 1002 1212)" textLength="90" lengthAdjust="spacingAndGlyphs">SUPERMARCHÉ AGRICOLE</text>
<path d="M1124,1178 V1158 L1146,1143 L1168,1158 V1178 Z M1168,1158 L1194,1155 V1176 L1168,1178" fill="#ea8a70" stroke="#333" stroke-width="1"/>
<text x="1140" y="1171" font-size="9" font-weight="bold" fill="#8a3a26">BIO</text>
<g fill="none" stroke="#e05a3c" stroke-width="1.6"><circle cx="840" cy="1250" r="5"/><circle cx="856" cy="1250" r="5"/><path d="M836,1244 h20 v-8 h-12 Z" fill="#e9866c"/><circle cx="1016" cy="1260" r="3"/><circle cx="1024" cy="1260" r="3"/><circle cx="1040" cy="1270" r="3"/><circle cx="1048" cy="1270" r="3"/><circle cx="1128" cy="1223" r="4"/><circle cx="1138" cy="1223" r="4"/><circle cx="1002" cy="1308" r="4"/><circle cx="1013" cy="1308" r="4"/></g>
<g>
<use href="#hs" xlink:href="#hs" fill="#5fb39b" transform="translate(888 1287) scale(1.4)"/><use href="#hs" xlink:href="#hs" fill="#fff" transform="translate(906 1277) scale(1.4)"/>
<use href="#hs" xlink:href="#hs" fill="#5fb39b" transform="translate(926 1292) scale(1.5)"/><use href="#hs" xlink:href="#hs" fill="#fff" transform="translate(946 1282) scale(1.4)"/>
<use href="#hs" xlink:href="#hs" fill="#5fb39b" transform="translate(962 1297) scale(1.4)"/><use href="#hs" xlink:href="#hs" fill="#5fb39b" transform="translate(915 1307) scale(1.3)"/>
<use href="#hs" xlink:href="#hs" fill="#fff" transform="translate(950 1262) scale(1.3)"/>
</g>
<g stroke="#111" stroke-width="1"><rect x="1110" y="1278" width="24" height="52" fill="url(#win)"/><rect x="1134" y="1256" width="42" height="72" fill="url(#win)"/><rect x="1176" y="1262" width="26" height="55" fill="url(#win)"/></g>
<g fill="#d8e3eb">
<use href="#tree" xlink:href="#tree" transform="translate(875 1332) scale(1.2)"/><use href="#tree" xlink:href="#tree" transform="translate(895 1347) scale(1.3)"/>
<use href="#tree" xlink:href="#tree" transform="translate(918 1362) scale(1.3)"/><use href="#tree" xlink:href="#tree" transform="translate(940 1352) scale(1.4)"/>
<use href="#tree" xlink:href="#tree" transform="translate(962 1342) scale(1.3)"/><use href="#tree" xlink:href="#tree" transform="translate(986 1357) scale(1.3)"/>
<use href="#tree" xlink:href="#tree" transform="translate(1010 1347) scale(1.2)"/><use href="#tree" xlink:href="#tree" transform="translate(1036 1362) scale(1.2)"/>
<use href="#tree" xlink:href="#tree" transform="translate(1060 1372) scale(1.1)"/><use href="#tree" xlink:href="#tree" transform="translate(1086 1377) scale(1)"/>
<use href="#tree" xlink:href="#tree" transform="translate(1110 1350) scale(1.1)"/><use href="#tree" xlink:href="#tree" transform="translate(1135 1340) scale(1.1)"/>
</g>
<g fill="#fff">
<use href="#hs" xlink:href="#hs" transform="translate(938 1427) scale(1.4)"/><use href="#hs" xlink:href="#hs" transform="translate(956 1417) scale(1.4)"/>
<use href="#hs" xlink:href="#hs" transform="translate(976 1432) scale(1.5)"/><use href="#hs" xlink:href="#hs" transform="translate(1000 1437) scale(1.5)"/>
<use href="#hs" xlink:href="#hs" transform="translate(1020 1427) scale(1.4)"/>
</g>
<g fill="#5fb39b" stroke="#222" stroke-width=".8"><rect x="1022" y="1192" width="18" height="8" rx="3"/><rect x="1070" y="1270" width="18" height="8" rx="3"/><rect x="1140" y="1200" width="18" height="8" rx="3"/><rect x="1250" y="1185" width="18" height="8" rx="3"/><rect x="968" y="1336" width="18" height="8" rx="3"/></g>
<!-- scene4 labels -->
<g fill="#e8573c">
<text class="lb" x="1049" y="1066" text-anchor="end">Circuits courts et décès</text><text class="lb" x="1049" y="1076" text-anchor="end">des grandes surfaces</text>
<text class="lb" x="1128" y="1072">Retour à la proximité</text>
<text class="lb" x="928" y="1089" text-anchor="end">Stratégies de</text><text class="lb" x="928" y="1099" text-anchor="end">verdissement  et</text><text class="lb" x="928" y="1109" text-anchor="end">valorisation de</text><text class="lb" x="928" y="1119" text-anchor="end">l'agroforesterie</text>
<text class="lb" x="1197" y="1099">Agriculture conventionnelle</text><text class="lb" x="1197" y="1109">respectueuse de l'environnement</text>
<text class="lb" x="835" y="1175" text-anchor="end">Reprise agricole</text>
<circle cx="1057" cy="1064" r="2"/><circle cx="1120" cy="1069" r="2"/><circle cx="935" cy="1087" r="2"/><circle cx="1188" cy="1097" r="2"/><circle cx="842" cy="1173" r="2"/>
</g>
<path d="M1057,1066 V1180 M1120,1071 V1225 M935,1089 V1165 M1188,1099 V1140 M842,1175 V1225" stroke="#e8573c" stroke-width="1.2" stroke-dasharray="1.3 1.8" fill="none"/>
<!-- circle 4 -->
<circle cx="1206" cy="1483" r="106" fill="#fff" stroke="#333" stroke-width="1"/>
<use href="#cm" xlink:href="#cm" transform="translate(1206 1483) scale(1.06)"/>
<path d="M1120,1480 L1160,1440 L1175,1470 L1168,1510 L1130,1525 Z" fill="url(#pT)"/>
<g opacity=".85" fill="#4ea6b3">
<path d="M1084,1462 Q1090,1505 1125,1515" fill="none" stroke="#4ea6b3" stroke-width="18"/>
<polygon points="1150,1521 1120,1533 1130,1497"/>
<path d="M1322,1458 Q1315,1500 1280,1510" fill="none" stroke="#4ea6b3" stroke-width="18"/>
<polygon points="1255,1516 1285,1528 1275,1492"/>
</g>
<text x="754" y="1484" font-size="21" font-weight="bold" fill="#ea5c3c" textLength="48" lengthAdjust="spacingAndGlyphs">2050</text>
<text x="754" y="1503" font-size="13" font-style="italic" font-weight="bold" fill="#ea5c3c" textLength="126" lengthAdjust="spacingAndGlyphs">LE CIEL S'ÉCLAIRCIT :</text>
<text x="754" y="1519" font-size="13" font-style="italic" fill="#ea5c3c" textLength="174" lengthAdjust="spacingAndGlyphs">UN TERRITOIRE DE PROXIMITÉ</text>

<!-- CONTRASTÉ TIMELINE -->
<text x="21" y="1708" font-size="32" fill="#888" textLength="191" lengthAdjust="spacingAndGlyphs">CONTRASTÉ</text>
<rect x="0" y="1707.5" width="1315" height="8" fill="#8a8a8a"/>
<polygon points="1312,1698.5 1338,1711.5 1312,1724.5" fill="#8a8a8a"/>
<text x="224" y="1743" font-size="38" font-weight="bold" fill="#8a8a8a" textLength="86" lengthAdjust="spacingAndGlyphs">2021</text>
<text x="650" y="1708" font-size="36" font-weight="bold" fill="#8a8a8a" textLength="90" lengthAdjust="spacingAndGlyphs">2035</text>
<text x="1000" y="1743" font-size="38" font-weight="bold" fill="#8a8a8a" textLength="89" lengthAdjust="spacingAndGlyphs">2050</text>
<text x="21" y="1732" font-size="15.5" font-weight="bold" font-style="italic" fill="#888" textLength="193" lengthAdjust="spacingAndGlyphs">LAUSANNE-BLÉCHERETTE :</text>
<text x="21" y="1750" font-size="15.5" font-style="italic" fill="#888" textLength="181" lengthAdjust="spacingAndGlyphs">DE L'EFFONDREMENT À LA</text>
<text x="21" y="1768" font-size="15.5" font-style="italic" fill="#888" textLength="160" lengthAdjust="spacingAndGlyphs">VERTUOSITÉ AGRICOLE</text>

<g fill="url(#hz)">
<rect x="330.5" y="1677" width="5" height="22"/><rect x="392.5" y="1724" width="5" height="29"/>
<rect x="475.5" y="1684" width="5" height="15"/><rect x="521.5" y="1724" width="5" height="13"/>
<rect x="597.5" y="1671" width="5" height="28"/><rect x="759.5" y="1724" width="5" height="27"/>
<rect x="817.5" y="1677" width="5" height="22"/><rect x="863.5" y="1724" width="5" height="24"/>
<rect x="946.5" y="1671" width="5" height="28"/><rect x="1110.5" y="1675" width="5" height="24"/>
<rect x="1181.5" y="1724" width="5" height="22"/><rect x="1261.5" y="1672" width="5" height="27"/>
</g>
<g stroke-width="5" fill="#000">
<circle cx="333" cy="1711.5" r="10" stroke="#2a6b9e"/><circle cx="395" cy="1711.5" r="10" stroke="#2a6b9e"/><circle cx="478" cy="1711.5" r="10" stroke="#2a6b9e"/><circle cx="524" cy="1711.5" r="10" stroke="#2a6b9e"/><circle cx="600" cy="1711.5" r="10" stroke="#2a6b9e"/>
<circle cx="762" cy="1711.5" r="10" stroke="#1e9b7e"/><circle cx="820" cy="1711.5" r="10" stroke="#1e9b7e"/><circle cx="866" cy="1711.5" r="10" stroke="#1e9b7e"/><circle cx="949" cy="1711.5" r="10" stroke="#1e9b7e"/>
<circle cx="1113" cy="1711.5" r="10" stroke="#ee6a45"/><circle cx="1184" cy="1711.5" r="10" stroke="#ee6a45"/><circle cx="1264" cy="1711.5" r="10" stroke="#ee6a45"/>
</g>
<g fill="#000">
<rect x="300" y="1663" width="66" height="14"/><rect x="364" y="1753" width="67" height="14"/><rect x="446" y="1670" width="66" height="14"/>
<rect x="484" y="1737" width="84" height="14"/><rect x="566" y="1657" width="66" height="14"/><rect x="729" y="1751" width="77" height="14"/>
<rect x="784" y="1663" width="66" height="14"/><rect x="834" y="1747" width="70" height="14"/><rect x="919" y="1657" width="77" height="14"/>
<rect x="1080" y="1661" width="67" height="14"/><rect x="1152" y="1746" width="66" height="14"/><rect x="1231" y="1658" width="66" height="14"/>
</g>
<text class="bx" x="333" y="1673.8" textLength="56" lengthAdjust="spacingAndGlyphs">POLITIQUE</text>
<text class="bx" x="397.5" y="1763.8" textLength="57" lengthAdjust="spacingAndGlyphs">ECONOMIE</text>
<text class="bx" x="479" y="1680.8" textLength="56" lengthAdjust="spacingAndGlyphs">POLITIQUE</text>
<text class="bx" x="526" y="1747.8" textLength="74" lengthAdjust="spacingAndGlyphs">AGRICULTURE</text>
<text class="bx" x="599" y="1667.8" textLength="56" lengthAdjust="spacingAndGlyphs">ECONOMIE</text>
<text class="bx" x="767.5" y="1761.8" textLength="68" lengthAdjust="spacingAndGlyphs">AGRICULTURE</text>
<text class="bx" x="817" y="1673.8" textLength="42" lengthAdjust="spacingAndGlyphs">CLIMAT</text>
<text class="bx" x="869" y="1757.8" textLength="57" lengthAdjust="spacingAndGlyphs">POLITIQUE</text>
<text class="bx" x="957.5" y="1667.8" textLength="68" lengthAdjust="spacingAndGlyphs">AGRICULTURE</text>
<text class="bx" x="1113.5" y="1671.8" textLength="57" lengthAdjust="spacingAndGlyphs">POLITIQUE</text>
<text class="bx" x="1185" y="1756.8" textLength="42" lengthAdjust="spacingAndGlyphs">CLIMAT</text>
<text class="bx" x="1264" y="1668.8" textLength="56" lengthAdjust="spacingAndGlyphs">ECONOMIE</text>

<text class="d" x="301" y="1613"><tspan>Acceptation de</tspan><tspan x="301" dy="11">l'initiative </tspan><tspan class="b">«Pour</tspan><tspan class="b" x="301" dy="11">une Suisse libre</tspan><tspan class="b" x="301" dy="11">de pesticides de</tspan><tspan class="b" x="301" dy="11">synthèse»</tspan></text>
<text class="d" x="364" y="1775"><tspan>De nouveaux</tspan><tspan x="364" dy="11">accords de </tspan><tspan class="b">libre-</tspan><tspan class="b" x="364" dy="11">échange</tspan><tspan> signés</tspan></text>
<text class="d" x="447" y="1632"><tspan>Application de la</tspan><tspan x="447" dy="11">loi et </tspan><tspan class="b">interdiction</tspan><tspan class="b" x="447" dy="11">de l'utilisation</tspan><tspan class="b" x="447" dy="11">des pesticides</tspan></text>
<text class="d" x="485" y="1762"><tspan class="b">Baisse de</tspan><tspan class="b" x="485" dy="11">rendement</tspan><tspan> et auto-</tspan><tspan x="485" dy="11">approvisionnement</tspan><tspan font-weight="bold" x="485" dy="11">insuffisant</tspan></text>
<text class="d" x="567" y="1630"><tspan>Explosion des</tspan><tspan x="567" dy="11">importations et</tspan><tspan class="b" x="567" dy="11">chute des prix</tspan></text>
<text class="d" x="729" y="1776"><tspan class="b">Effondrement</tspan><tspan> de</tspan><tspan x="729" dy="11">l'agriculture</tspan></text>
<text class="d" x="784" y="1645"><tspan>Arrivée d'un</tspan><tspan class="b" x="784" dy="11">virus alimentaire</tspan></text>
<text class="d" x="834" y="1770"><tspan class="b">Fermeture</tspan><tspan> des</tspan><tspan x="834" dy="11">frontières par</tspan><tspan x="834" dy="11">crainte du virus</tspan><tspan x="834" dy="11">et disparition des</tspan><tspan x="834" dy="11">importations</tspan></text>
<text class="d" x="919" y="1638"><tspan class="b">Famine</tspan><tspan> en</tspan><tspan x="919" dy="11">Suisse</tspan></text>
<text class="d" x="1081" y="1633"><tspan>Mise en place</tspan><tspan x="1081" dy="11">d'une </tspan><tspan class="b">politique</tspan><tspan class="b" x="1081" dy="11">pro-agricole</tspan></text>
<text class="d" x="1152" y="1770"><tspan>Nouvelle </tspan><tspan class="b">loi sur</tspan><tspan class="b" x="1152" dy="11">le climat</tspan></text>
<text class="d" x="1231" y="1639"><tspan class="b">Disparition</tspan><tspan> des</tspan><tspan x="1231" dy="11">grandes surfaces</tspan></text>

<!-- FOOTER -->
<g font-size="11.5">
<text x="19" y="1899" fill="#e8462c" textLength="362" lengthAdjust="spacingAndGlyphs">ATELIER PROJET TERRITOIRE, PROJET DE PAYSAGE (NORD)</text>
<text x="393" y="1899" fill="#e8462c">-</text>
<text x="409" y="1899" fill="#e8462c" textLength="71" lengthAdjust="spacingAndGlyphs">GROUPE A :</text>
<text x="495" y="1899" fill="#f07f6c" textLength="154" lengthAdjust="spacingAndGlyphs">MARISSA EICHENBERGER</text>
<text x="661" y="1899" fill="#f07f6c">|</text>
<text x="673" y="1899" fill="#f07f6c" textLength="108" lengthAdjust="spacingAndGlyphs">LAURIANE SCIBOZ</text>
<text x="793" y="1899" fill="#f07f6c">|</text>
<text x="807" y="1899" fill="#f07f6c" textLength="112" lengthAdjust="spacingAndGlyphs">ARNAUD STALDER</text>
<text x="929" y="1899" fill="#f07f6c">|</text>
<text x="943" y="1899" fill="#f07f6c" textLength="154" lengthAdjust="spacingAndGlyphs">KATARZYNA WOJTOWICZ</text>
<text x="1107" y="1899" fill="#f07f6c" textLength="108" lengthAdjust="spacingAndGlyphs">|KIRAN ZÜRCHER</text>
<text x="1250" y="1899" fill="#f07f6c" textLength="86" lengthAdjust="spacingAndGlyphs">30 MARS 2021</text>
</g>
</svg>
</body></html>
